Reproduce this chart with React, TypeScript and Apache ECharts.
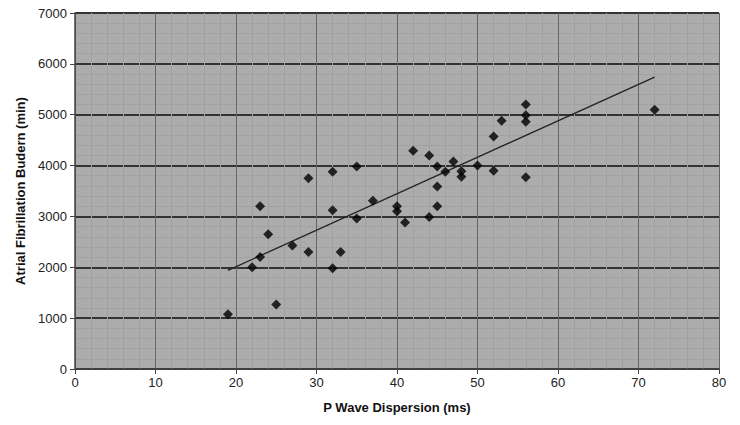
import React, { useEffect, useRef } from "react";
import * as echarts from "echarts";

const pWaveDispersion = [19, 22, 23, 23, 24, 25, 27, 29, 29, 32, 32, 32, 33, 35, 35, 37, 40, 40, 41, 42, 44, 44, 45, 45, 45, 46, 47, 48, 48, 50, 52, 52, 53, 56, 56, 56, 56, 72];
const afBurden = [1075, 2000, 3200, 2200, 2650, 1270, 2430, 3750, 2300, 3880, 3120, 1980, 2300, 3980, 2960, 3310, 3200, 3100, 2880, 4290, 4200, 2990, 3980, 3590, 3200, 3880, 4080, 3890, 3780, 4000, 4570, 3900, 4880, 5200, 4990, 4860, 3770, 5100];
const trendX = [19, 72];
const trendY = [1940, 5740];
const xTicks = [0, 10, 20, 30, 40, 50, 60, 70, 80];
const yTicks = [0, 1000, 2000, 3000, 4000, 5000, 6000, 7000];

export default function App() {
  const ref = useRef<HTMLDivElement>(null);
  useEffect(() => {
    if (!ref.current) return;
    const chart = echarts.init(ref.current, null, { renderer: "svg" });
    const font = "'Liberation Sans', Arial, sans-serif";
    chart.setOption({
      animation: false,
      grid: {
        left: 75,
        right: 21,
        top: 13,
        bottom: 56,
        show: true,
        backgroundColor: "#acacac",
        borderWidth: 0,
      },
      xAxis: {
        type: "value",
        min: xTicks[0],
        max: xTicks[xTicks.length - 1],
        interval: 10,
        name: "P Wave Dispersion (ms)",
        nameLocation: "middle",
        nameGap: 32,
        nameTextStyle: { fontFamily: font, fontSize: 13, fontWeight: "bold", color: "#111" },
        axisLine: { show: true, lineStyle: { color: "#444", width: 1.5 } },
        axisTick: { show: true, length: 5, lineStyle: { color: "#444" } },
        axisLabel: { fontFamily: font, fontSize: 13, color: "#222", margin: 7, formatter: (v: number) => String(v) },
        splitLine: { show: true, lineStyle: { color: "#666", width: 1 } },
        minorTick: { show: false, splitNumber: 5 },
        minorSplitLine: { show: true, lineStyle: { color: "#a1a1a1", width: 1 } },
      },
      yAxis: {
        type: "value",
        min: yTicks[0],
        max: yTicks[yTicks.length - 1],
        interval: 1000,
        name: "Atrial Fibrillation Budern (min)",
        nameLocation: "middle",
        nameGap: 43,
        nameRotate: 90,
        nameTextStyle: { fontFamily: font, fontSize: 13, fontWeight: "bold", color: "#111" },
        axisLine: { show: true, lineStyle: { color: "#444", width: 1.5 } },
        axisTick: { show: true, length: 5, lineStyle: { color: "#444" } },
        axisLabel: { fontFamily: font, fontSize: 13, color: "#222", margin: 8, formatter: (v: number) => String(v) },
        splitLine: { show: true, lineStyle: { color: "#333", width: 2 } },
        minorTick: { show: false, splitNumber: 5 },
        minorSplitLine: { show: true, lineStyle: { color: "#a1a1a1", width: 1 } },
      },
      series: [
        {
          type: "line",
          data: trendX.map((x, i) => [x, trendY[i]]),
          showSymbol: false,
          symbol: "none",
          lineStyle: { color: "#222", width: 1.3 },
          z: 3,
        },
        {
          type: "scatter",
          data: pWaveDispersion.map((x, i) => [x, afBurden[i]]),
          symbol: "diamond",
          symbolSize: 10,
          itemStyle: { color: "#000" },
          z: 4,
        },
      ],
    });
    return () => chart.dispose();
  }, []);
  return <div ref={ref} style={{ width: 740, height: 425, position: "absolute", left: 0, top: 0 }} />;
}
